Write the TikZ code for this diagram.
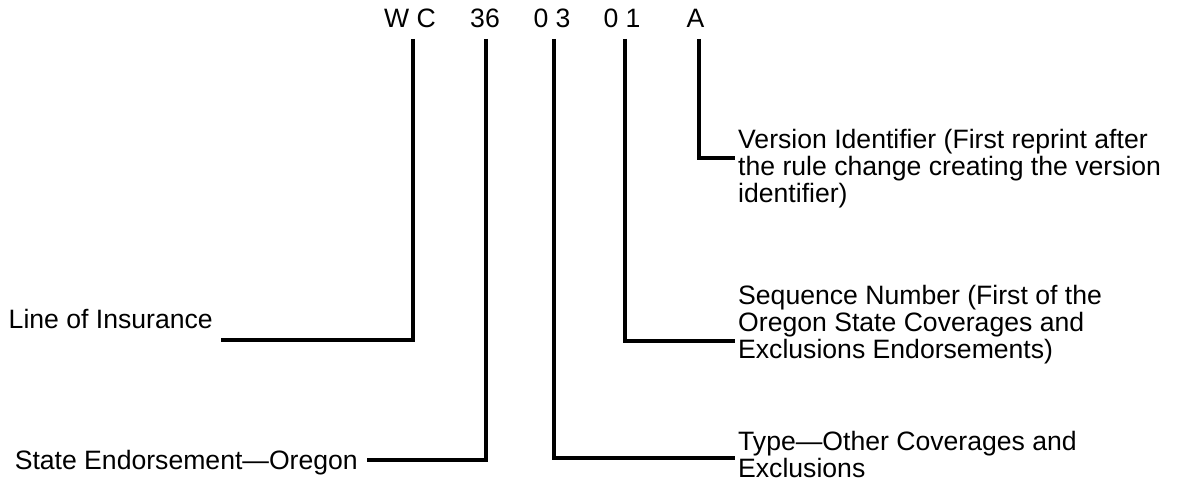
\documentclass[tikz,border=0pt]{standalone}
\usepackage{fontspec}
\setmainfont{Liberation Sans}
\begin{document}
\begin{tikzpicture}[x=1pt,y=-1pt,
  label/.style={inner sep=0pt, font=\fontsize{26.6}{27}\selectfont, align=left},
  code/.style={inner sep=0pt, font=\fontsize{26.6}{27}\selectfont, anchor=base},
  lead/.style={line width=3.2pt, line join=miter}]
\useasboundingbox (0,0) rectangle (1179,489);

% form number, split into its parts
\node[code] (wc)  at (410,28) {W C};
\node[code] (st)  at (485,28) {36};
\node[code] (ty)  at (552,28) {0 3};
\node[code] (sq)  at (622,28) {0 1};
\node[code] (ver) at (695.5,28) {A};

% tops of the leader lines under each part
\coordinate (wcTop)  at (413,39);
\coordinate (stTop)  at (486,39);
\coordinate (tyTop)  at (554,39);
\coordinate (sqTop)  at (625,39);
\coordinate (verTop) at (699,39);

% explanations (first line given a fixed 20pt height)
\node[label, anchor=base east] (lineins) at (213,329) {Line of Insurance};
\node[label, anchor=base east] (state) at (358,469) {State Endorsement---Oregon};
\node[label, anchor=north west] (version) at (738,128)
  {\rule{0pt}{20pt}Version Identifier (First reprint after\\the rule change creating the version\\identifier)};
\node[label, anchor=north west] (sequence) at (738,284)
  {\rule{0pt}{20pt}Sequence Number (First of the\\Oregon State Coverages and\\Exclusions Endorsements)};
\node[label, anchor=north west] (type) at (738,430)
  {\rule{0pt}{20pt}Type---Other Coverages and\\Exclusions};

% leader lines
\draw[lead] (wcTop)  |- ([xshift=8pt,yshift=-11pt]lineins.base east);
\draw[lead] (stTop)  |- ([xshift=9pt,yshift=9pt]state.base east);
\draw[lead] (tyTop)  |- ([xshift=-3pt]type.north west |- 0,458);
\draw[lead] (sqTop)  |- ([xshift=-3pt]sequence.north west |- 0,341);
\draw[lead] (verTop) |- ([xshift=-3pt]version.north west |- 0,158);
\end{tikzpicture}
\end{document}
